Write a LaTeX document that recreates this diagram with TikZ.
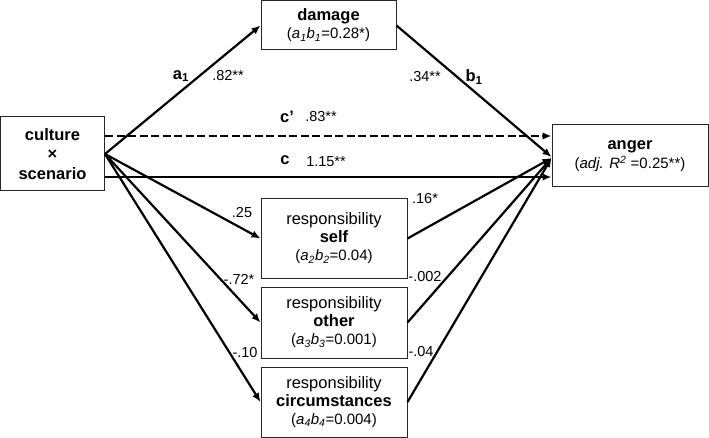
\documentclass[tikz,border=0pt]{standalone}
\usepackage{fontspec}
\setmainfont{Liberation Sans}
\usetikzlibrary{arrows.meta}
\begin{document}
\begin{tikzpicture}[x=1pt,y=-1pt,
  box/.style={draw=black!85,line width=1pt,rectangle,inner sep=0pt,align=center,
    font=\fontsize{16.5}{18}\selectfont},
  arr/.style={line width=2.2pt,-{Latex[length=9pt,width=7.5pt]}},
  num/.style={inner sep=0pt,font=\fontsize{14.5}{16}\selectfont},
  lab/.style={inner sep=0pt,font=\fontsize{16.5}{18}\selectfont\bfseries}]
\useasboundingbox (0,0) rectangle (709,438);
\node[box,minimum width=104pt,minimum height=74pt,font=\fontsize{16.5}{19.5}\selectfont\bfseries] (cult) at (52.5,154) {culture\\×\\scenario};
\node[box,minimum width=135pt,minimum height=49pt] (dam) at (328.5,25.5) {\textbf{damage}\\{\fontsize{15}{17}\selectfont(\textit{a}\textsubscript{\textit{1}}\textit{b}\textsubscript{\textit{1}}=0.28*)}};
\node[box,minimum width=156pt,minimum height=62pt,font=\fontsize{16.5}{19}\selectfont] (ang) at (630,156) {\textbf{anger}\\{\fontsize{15}{17}\selectfont(\textit{adj. R}\textsuperscript{\textit{2}} =0.25**)}};
\node[box,minimum width=146pt,minimum height=79pt] (self) at (334,238.5) {responsibility\\\textbf{self}\\{\fontsize{15}{17}\selectfont(\textit{a}\textsubscript{\textit{2}}\textit{b}\textsubscript{\textit{2}}=0.04)}};
\node[box,minimum width=146pt,minimum height=71pt] (oth) at (334,322.5) {responsibility\\\textbf{other}\\{\fontsize{15}{17}\selectfont(\textit{a}\textsubscript{\textit{3}}\textit{b}\textsubscript{\textit{3}}=0.001)}};
\node[box,minimum width=146pt,minimum height=70pt] (circ) at (334,402) {responsibility\\\textbf{circumstances}\\{\fontsize{15}{17}\selectfont(\textit{a}\textsubscript{\textit{4}}\textit{b}\textsubscript{\textit{4}}=0.004)}};
\coordinate (conv) at ([yshift=-2pt]ang.west);
% paths
\draw[arr] (cult.east) -- (dam.west);
\draw[arr] (dam.east) -- ([yshift=-1pt]ang.west);
\draw[arr,line width=2.8pt,dash pattern=on 8pt off 3.5pt] ([yshift=18pt]cult.east) -- ([yshift=18pt]cult.east -| ang.west);
\draw[arr] ([yshift=-23pt]cult.east) -- ([yshift=-23pt]cult.east -| ang.west);
\draw[arr] (cult.east) -- (self.west);
\draw[arr] (cult.east) -- (oth.west);
\draw[arr] (cult.east) -- (circ.west);
\draw[arr] (self.east) -- (conv);
\draw[arr] (oth.east) -- (conv);
\draw[arr] (circ.east) -- (conv);
% labels
\node[lab] (la1) at (181,76) {a\textsubscript{1}};
\node[num] (n82) at (228,76) {.82**};
\node[lab] (lcp) at (287,117) {c’};
\node[num] (n83) at (321,117) {.83**};
\node[lab] (lc) at (285,160) {c};
\node[num] (n115) at (326,162) {1.15**};
\node[num] (n34) at (425,77) {.34**};
\node[lab] (lb1) at (474,77) {b\textsubscript{1}};
\node[num] (n25) at (242,213) {.25};
\node[num] (n16) at (425,199) {.16*};
\node[num] (n72) at (239,279) {-.72*};
\node[num] (n10) at (245,353) {-.10};
\node[num] (n002) at (425,277) {-.002};
\node[num] (n04) at (421,352) {-.04};
\end{tikzpicture}
\end{document}
